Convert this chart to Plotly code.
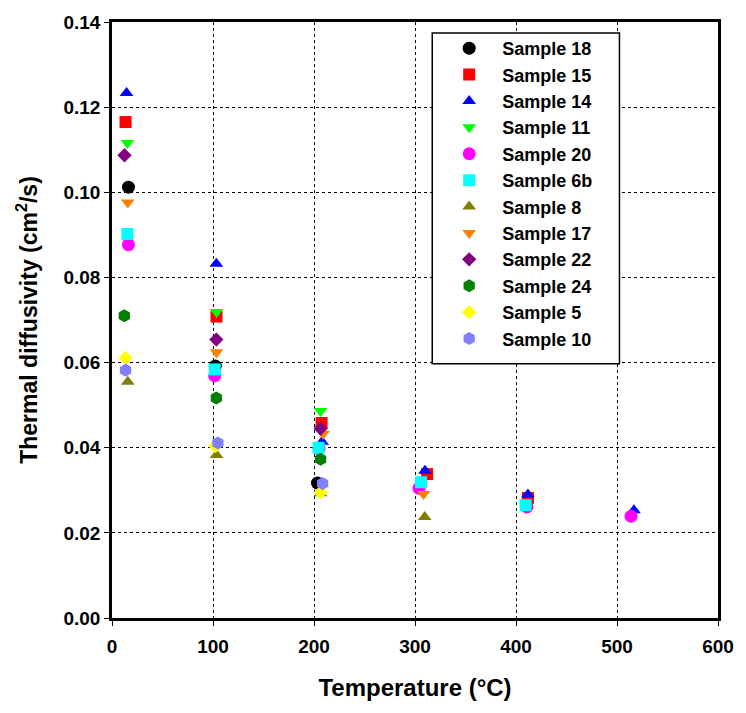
import plotly.graph_objects as go

names = ["Sample 18", "Sample 15", "Sample 14", "Sample 11", "Sample 20", "Sample 6b",
         "Sample 8", "Sample 17", "Sample 22", "Sample 24", "Sample 5", "Sample 10"]

temp_18 = [16.3, 102.3, 203.4]
diff_18 = [0.1012, 0.0592, 0.0317]
temp_15 = [13.4, 103.5, 207.5, 312.0, 411.8]
diff_15 = [0.1165, 0.0708, 0.0458, 0.0338, 0.0282]
temp_14 = [14.4, 103.3, 208.0, 309.9, 411.8, 516.8]
diff_14 = [0.1233, 0.0832, 0.0414, 0.0346, 0.0290, 0.0253]
temp_11 = [15.3, 103.5, 206.5]
diff_11 = [0.1116, 0.0719, 0.0486]
temp_20 = [16.3, 101.7, 205.0, 304.0, 410.8, 513.9]
diff_20 = [0.0877, 0.0569, 0.0398, 0.0305, 0.0261, 0.0239]
temp_6b = [15.3, 101.7, 204.5, 306.0, 409.5]
diff_6b = [0.0902, 0.0584, 0.0400, 0.0319, 0.0265]
temp_8 = [15.6, 103.5, 206.5, 309.6]
diff_8 = [0.0555, 0.0383, 0.0293, 0.0237]
temp_17 = [15.6, 103.5, 209.0, 308.5]
diff_17 = [0.0976, 0.0624, 0.0433, 0.0291]
temp_22 = [12.4, 103.3, 206.5]
diff_22 = [0.1087, 0.0654, 0.0445]
temp_24 = [12.2, 103.3, 206.5]
diff_24 = [0.0710, 0.0517, 0.0373]
temp_5 = [13.4, 102.3, 206.5]
diff_5 = [0.0611, 0.0404, 0.0295]
temp_10 = [13.4, 104.8, 208.5]
diff_10 = [0.0582, 0.0411, 0.0316]

temps = [temp_18, temp_15, temp_14, temp_11, temp_20, temp_6b, temp_8, temp_17, temp_22, temp_24, temp_5, temp_10]
diffs = [diff_18, diff_15, diff_14, diff_11, diff_20, diff_6b, diff_8, diff_17, diff_22, diff_24, diff_5, diff_10]

colors = ["#000000", "#FF0000", "#0000FF", "#00FF00", "#FF00FF", "#00FFFF",
          "#808000", "#FF8000", "#800080", "#008000", "#FFFF00", "#8080FF"]
symbols = ["circle", "square", "triangle-up", "triangle-down", "circle", "square",
           "triangle-up", "triangle-down", "diamond", "hexagon", "diamond", "hexagon"]
sizes = [13, 12, 12, 12, 13, 12, 12, 12, 11, 13, 11, 13]

FONT = "Liberation Sans, Arial, sans-serif"

fig = go.Figure()
for n, x, y, c, s, sz in zip(names, temps, diffs, colors, symbols, sizes):
    fig.add_trace(go.Scatter(
        x=x, y=y, mode="markers", name=n,
        marker=dict(color=c, symbol=s, size=sz, line=dict(width=0)),
    ))

axis_common = dict(
    showline=True, linecolor="black", linewidth=2.5, mirror=True,
    showgrid=True, gridcolor="black", gridwidth=1, griddash="dot",
    ticks="outside", ticklen=5, tickcolor="black", tickwidth=1,
    zeroline=False,
    tickfont=dict(family=FONT, size=19, color="black", weight="bold"),
)

L, R, T, B = 112, 19, 18, 95
W, H = 746, 713
pw, ph = W - L - R, H - T - B

fig.update_layout(
    width=W, height=H,
    margin=dict(l=L, r=R, t=T, b=B),
    paper_bgcolor="white", plot_bgcolor="white",
    font=dict(family=FONT, color="black"),
    xaxis=dict(range=[0, 600], tickvals=[0, 100, 200, 300, 400, 500, 600],
               ticklabelstandoff=4,
               title=dict(text="Temperature (°C)", font=dict(family=FONT, size=24, weight="bold"), standoff=24),
               **axis_common),
    yaxis=dict(range=[0, 0.14], tickvals=[0, 0.02, 0.04, 0.06, 0.08, 0.10, 0.12, 0.14],
               tickformat=".2f",
               title=dict(text="Thermal diffusivity (cm<sup>2</sup>/s)", font=dict(family=FONT, size=23, weight="bold"), standoff=20),
               **axis_common),
    legend=dict(
        x=(441 - L) / pw, y=1 - (26 - T) / ph, xanchor="left", yanchor="top",
        bgcolor="rgba(0,0,0,0)", borderwidth=0,
        font=dict(family=FONT, size=18, color="black", weight="bold"),
        itemwidth=56,
    ),
    shapes=[dict(
        type="rect", xref="paper", yref="paper", layer="above",
        x0=(437 - L) / pw, x1=(627 - L) / pw,
        y0=1 - (362 - T) / ph, y1=1 - (29 - T) / ph,
        line=dict(color="black", width=1.5), fillcolor="white",
    )],
)

fig.write_html("out.html")
